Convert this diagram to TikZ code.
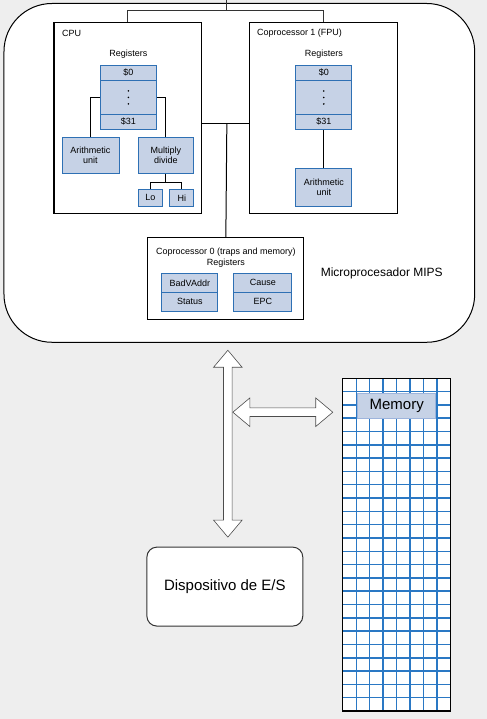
\documentclass[tikz,border=0pt]{standalone}
\usepackage{fontspec}
\setmainfont{Liberation Sans}
\usetikzlibrary{shapes.arrows}

\definecolor{bggray}{HTML}{EEEEEE}
\definecolor{regfill}{HTML}{C6D2E6}
\definecolor{regline}{HTML}{2E70B4}
\definecolor{gridblue}{HTML}{2A78C4}
\definecolor{memline}{HTML}{9DB4DC}

\tikzset{
  unitbox/.style={draw=black, line width=1.1pt, fill=white, inner sep=0pt},
  regbox/.style={draw=regline, fill=regfill, line width=0.8pt, inner sep=0pt, align=center, font=\fontsize{9}{10.5}\selectfont},
  small/.style={font=\fontsize{9}{11}\selectfont, inner sep=0pt},
  wire/.style={line width=1pt},
  gridline/.style={gridblue, line width=1.5pt},
  bigarrow/.style={double arrow, draw=black!70, fill=white, line width=0.6pt, inner sep=4pt, double arrow head extend=10pt, double arrow tip angle=80},
}

\begin{document}
\begin{tikzpicture}[x=1pt, y=-1pt]
  % background
  \fill[bggray] (0,0) rectangle (487,719);
  % Microprocesador MIPS frame
  \node[draw=black, fill=white, line width=1pt, rounded corners=48pt, minimum width=471pt, minimum height=339pt] (mips) at (239.5,172.5) {};
  \node[font=\fontsize{12}{14}\selectfont] (mipslabel) at (382,273) {Microprocesador MIPS};
  % CPU
  \node[unitbox, minimum width=148pt, minimum height=191pt] (cpu) at (128,117.5) {};
  \node[small, anchor=west] (cpulabel) at (62,33) {CPU};
  \node[small] (cpuregs) at (128.5,54) {Registers};
  \node[regbox, minimum width=57pt, minimum height=15pt] (cpur0) at (128.5,72.5) {\$0};
  \node[regbox, minimum width=57pt, minimum height=34pt] (cpurdots) at (128.5,97) {};
  \foreach \d in {-6.5,0,6.5}
    \fill (128.5,97+\d) circle (0.9pt);
  \node[regbox, minimum width=57pt, minimum height=15pt] (cpur31) at (128.5,121.5) {\$31};
  \node[regbox, minimum width=57pt, minimum height=36pt] (alu) at (90.5,155) {Arithmetic\\unit};
  \node[regbox, minimum width=56pt, minimum height=36pt] (muldiv) at (166,155) {Multiply\\divide};
  \node[regbox, minimum width=25pt, minimum height=17pt] (lo) at (150.5,197.5) {Lo};
  \node[regbox, minimum width=24pt, minimum height=17pt] (hi) at (182,197.5) {Hi};
  \draw[wire] (cpurdots.west) -| (alu.north);
  \draw[wire] (cpurdots.east) -| (muldiv.north);
  \draw[wire] (muldiv.south) -- ++(0,9) coordinate (mdjoin);
  \draw[wire] (lo.north) |- (mdjoin) -| (hi.north);
  % Coprocessor 1
  \node[unitbox, minimum width=148pt, minimum height=191pt] (fpu) at (324,117.5) {};
  \node[small, anchor=west] (fpulabel) at (257,33) {Coprocessor 1 (FPU)};
  \node[small] (fpuregs) at (324,54) {Registers};
  \node[regbox, minimum width=56pt, minimum height=15pt] (fpur0) at (324,72.5) {\$0};
  \node[regbox, minimum width=56pt, minimum height=34pt] (fpurdots) at (324,97) {};
  \foreach \d in {-6.5,0,6.5}
    \fill (324,97+\d) circle (0.9pt);
  \node[regbox, minimum width=56pt, minimum height=15pt] (fpur31) at (324,121.5) {\$31};
  \node[regbox, minimum width=56pt, minimum height=38pt] (falu) at (324,187) {Arithmetic\\unit};
  \draw[wire] (fpur31.south) -- (falu.north);
  % Coprocessor 0
  \node[unitbox, minimum width=156pt, minimum height=82pt] (cop0) at (226,278) {};
  \node[small, align=center] (cop0label) at (226,257.5) {Coprocessor 0 (traps and memory)\\Registers};
  \node[regbox, minimum width=56pt, minimum height=19pt] (badvaddr) at (190,282.5) {BadVAddr};
  \node[regbox, minimum width=56pt, minimum height=19pt] (status) at (190,301.5) {Status};
  \node[regbox, minimum width=58pt, minimum height=19pt] (cause) at (263,282.5) {Cause};
  \node[regbox, minimum width=58pt, minimum height=19pt] (epc) at (263,301.5) {EPC};
  % internal buses
  \coordinate (busin) at (227,0);
  \coordinate (bustop) at (227,11);
  \coordinate (midbus) at (227,123);
  \draw[wire, black!80] (cpu.north) -- ++(0,-11) -| (fpu.north);
  \draw[wire, black!80] (busin) -- (bustop);
  \draw[wire] (cpu.east |- midbus) -- (fpu.west |- midbus);
  \draw[wire] (midbus) -- (cop0.north);
  % external buses
  \node[bigarrow, minimum height=187pt, rotate=90] (iobus) at (228,443.5) {};
  \node[bigarrow, minimum height=100pt] (membus) at (283,412) {};
  % Memory
  \fill[white] (343,378) rectangle (451,711);
  \foreach \i in {1,...,7}
    \draw[gridline] ({343+13.5*\i},378) -- ({343+13.5*\i},711);
  \foreach \j in {1,...,24}
    \draw[gridline] (343,{378+13.32*\j}) -- (451,{378+13.32*\j});
  \node[draw=black, line width=1.3pt, minimum width=108pt, minimum height=333pt, inner sep=0pt] (memory) at (397,544.5) {};
  \node[draw=memline, fill=regfill, line width=0.8pt, minimum width=78pt, minimum height=25pt, font=\fontsize{15}{18}\selectfont] (memlabel) at (397,405.5) {Memory};
  % Dispositivo de E/S
  \node[draw=black!80, fill=white, line width=1pt, rounded corners=10pt, minimum width=156pt, minimum height=79pt, font=\fontsize{15}{18}\selectfont] (io) at (225,586.5) {Dispositivo de E/S};
\end{tikzpicture}
\end{document}
